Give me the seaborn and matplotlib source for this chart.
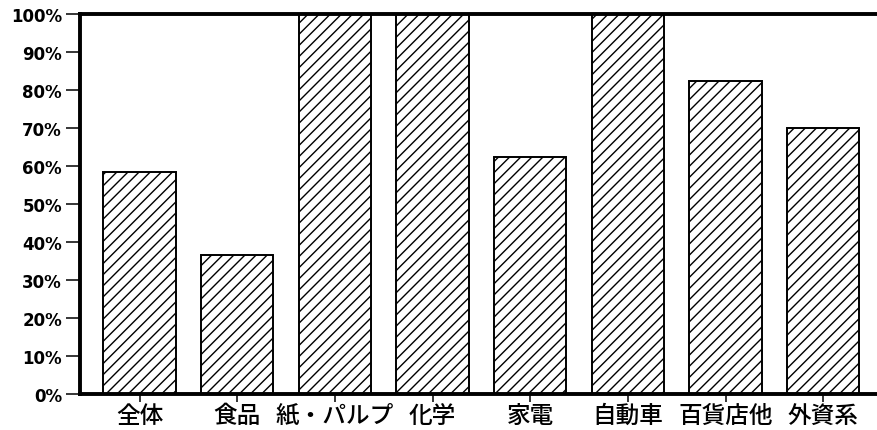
import matplotlib
matplotlib.use("Agg")
import matplotlib.pyplot as plt
import seaborn as sns

# 業種別の割合（%）
categories = ["全体", "食品", "紙・パルプ", "化学", "家電", "自動車", "百貨店他", "外資系"]
values = [58.5, 36.5, 100, 100, 62.5, 100, 82.5, 70]
yticks = list(range(0, 101, 10))

sns.set_style("white")
plt.rcParams['font.family'] = ['Noto Sans CJK JP', 'DejaVu Sans']
plt.rcParams['hatch.linewidth'] = 1.0

fig = plt.figure(figsize=(8.78, 4.31), dpi=100)
ax = fig.add_axes([0.0911, 0.0835, 0.9089, 0.8817])

sns.barplot(x=categories, y=values, color="white", saturation=1,
            edgecolor="black", linewidth=1.4, width=0.74, hatch="///", ax=ax)

ax.set_ylim(0, 100)
ax.set_xlim(-0.61, 7.56)
ax.set_yticks(yticks)
ax.set_yticklabels([f"{t}%" for t in yticks], fontsize=12, fontweight="bold",
                   family=['DejaVu Sans'], color="black")
ax.set_xticks(range(len(categories)))
ax.set_xticklabels(categories, fontsize=17, fontweight="medium", color="black")
ax.tick_params(axis="y", direction="out", length=10, width=1.3, pad=3, left=True)
ax.tick_params(axis="x", direction="out", length=6, width=1.3, pad=1, bottom=True)
ax.set_xlabel("")
ax.set_ylabel("")

for side in ["left", "bottom", "top"]:
    ax.spines[side].set_linewidth(2.8)
    ax.spines[side].set_color("black")
ax.spines["right"].set_visible(False)

fig.savefig("out.png", dpi=100)
plt.close()
